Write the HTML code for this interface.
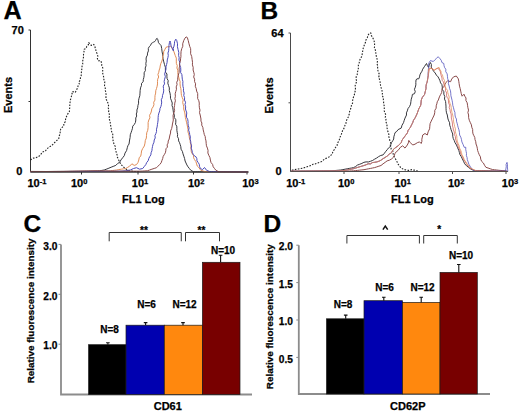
<!DOCTYPE html>
<html><head><meta charset="utf-8"><style>
html,body{margin:0;padding:0;background:#fff;}
svg{display:block;font-family:"Liberation Sans", sans-serif;}
text{stroke:#000;stroke-width:0.25px;}
</style></head><body>
<svg width="520" height="417" viewBox="0 0 520 417" font-family='"Liberation Sans", sans-serif'>
<rect width="520" height="417" fill="#fff"/>
<path d="M30.5 30 V172 H248.5" fill="none" stroke="#333" stroke-width="1"/>
<path d="M28.5 30 H30.5 M28.5 101.5 H30.5" stroke="#333" stroke-width="1"/>
<path d="M81.5 172 V174.5" stroke="#333" stroke-width="1"/>
<path d="M138 172 V174.5" stroke="#333" stroke-width="1"/>
<path d="M193.5 172 V174.5" stroke="#333" stroke-width="1"/>
<path d="M247 172 V174.5" stroke="#333" stroke-width="1"/>
<polyline points="30.5,160 31.0,159.6 33.2,158.15 35.8,157.7 37.78,156.92 39.6,155.8 41.1,153.94 42.5,152.0 45.4,151.0 46.99,148.75 49.2,147.1 52.1,145.2 53.98,143.18 56.0,141.3 58.8,138.5 59.15,136.04 60.22,133.74 60.04,131.17 60.8,128.8 62.16,127.31 63.7,126.0 63.86,123.6 65.33,121.57 65.6,119.2 66.41,116.74 67.5,114.4 69.4,111.5 69.56,109.2 69.79,106.9 69.78,104.58 70.04,102.29 70.4,100.0 70.99,97.9 71.58,95.8 72.09,93.68 72.3,91.5 75.2,92.5 76.35,90.35 77.42,88.16 78.1,85.8 79.25,84.02 78.82,81.77 80.34,80.1 80.4,78.0 81.19,75.69 81.27,73.27 81.55,70.88 81.9,68.5 82.05,66.18 82.74,63.93 82.57,61.56 83.04,59.28 83.5,57.0 83.5,54.38 83.98,51.8 84.2,49.2 86.2,48.3 86.79,46.26 88.41,44.67 88.7,42.5 91.2,45.4 93.8,44.4 94.76,46.19 95.3,48.12 95.84,50.05 96.3,52.0 97.38,54.07 97.79,56.29 97.39,58.69 98.3,60.8 100.8,60.8 101.64,63.13 101.77,65.6 102.79,67.89 102.7,70.4 102.59,72.69 103.06,74.91 103.71,77.09 103.81,79.36 104.81,81.49 104.6,83.8 104.52,86.03 105.29,88.17 105.23,90.4 105.93,92.55 106.03,94.76 105.94,96.99 106.0,99.2 107.24,100.96 107.9,103.0 108.62,105.21 108.02,107.52 108.88,109.71 108.6,112.0 109.27,113.95 109.61,115.94 108.93,118.05 109.6,120.0 110.19,122.27 110.34,124.61 111.05,126.86 111.2,129.2 111.67,131.77 112.78,134.22 112.7,136.9 112.91,139.52 113.36,142.1 114.2,144.6 115.27,146.53 115.29,148.73 115.8,150.8 116.42,152.8 117.06,154.8 117.3,156.9 118.51,159.57 119.6,162.3 121.9,165.4 123.45,166.95 125.0,168.5 126.9,169.5 128.8,170.5 131.15,171.0 133.5,171.5 135.67,171.5 137.83,171.5 140.0,171.5" fill="none" stroke="#222" stroke-width="1.1" stroke-linejoin="round" stroke-dasharray="1.6,1.4" opacity="1"/>
<polyline points="30,171.6 32.03,171.59 34.06,171.57 36.09,171.56 38.12,171.55 40.16,171.54 42.19,171.53 44.22,171.51 46.25,171.5 48.28,171.49 50.31,171.47 52.34,171.46 54.38,171.45 56.41,171.44 58.44,171.42 60.47,171.41 62.5,171.4 64.53,171.39 66.56,171.38 68.59,171.36 70.62,171.35 72.66,171.34 74.69,171.32 76.72,171.31 78.75,171.3 80.78,171.29 82.81,171.27 84.84,171.26 86.88,171.25 88.91,171.24 90.94,171.22 92.97,171.21 95.0,171.2 97.3,171.0 99.6,170.8 101.9,170.4 104.2,170.0 106.15,169.25 108.1,168.5 110.0,167.7 111.9,166.9 113.85,166.15 115.8,165.4 117.51,163.62 119.6,162.3 121.01,159.9 122.7,157.7 124.32,155.63 125.0,153.1 126.57,150.58 127.3,147.7 127.86,145.77 129.02,144.02 129.32,142.01 129.6,140.0 130.11,137.43 130.28,134.79 131.2,132.3 131.85,130.3 132.48,128.3 132.7,126.2 134.2,124.6 135.43,122.45 135.8,120.0 135.76,117.97 136.69,116.05 136.29,113.98 136.99,112.03 136.9,110.0 137.71,107.77 137.95,105.44 138.62,103.19 138.5,100.8 139.02,98.24 139.81,95.73 140.0,93.1 140.15,90.47 140.53,87.88 141.5,85.4 141.53,83.31 143.2,81.71 143.27,79.64 143.8,77.7 144.19,75.28 144.11,72.79 145.41,70.51 145.2,68.0 146.07,65.78 145.83,63.38 146.3,61.1 146.04,59.02 146.36,57.02 147.43,55.13 147.5,53.1 148.41,50.89 148.3,48.5 149.2,46.7 150.4,45.6 151.5,43.3 152.5,42.7 153.6,42.1 154.8,41.5 155.6,40.4 156.1,39.2 157.1,38.3 157.9,39.8 158.5,42.7 159.4,43.8 160.2,44.4 161.1,45.6 161.7,48.5 162.1,51.9 162.6,54.18 162.8,56.5 163.07,58.82 163.6,61.1 164.5,64.6 165.39,67.23 165.4,70.0 165.54,72.15 166.95,74.0 166.9,76.2 167.06,78.54 168.23,80.71 167.8,83.15 168.5,85.4 169.35,87.9 169.28,90.58 170.0,93.1 170.45,95.68 170.5,98.33 171.5,100.8 172.26,103.04 171.99,105.45 172.75,107.69 173.1,110.0 173.45,112.56 174.3,115.0 174.29,117.51 175.83,119.69 175.8,122.2 175.57,124.29 176.76,126.18 176.89,128.23 176.87,130.29 177.2,132.3 177.6,134.44 177.44,136.68 178.54,138.7 178.6,140.9 179.57,142.74 180.21,144.71 180.8,146.7 181.06,149.21 182.39,151.39 183.0,153.8 183.82,156.16 184.58,158.55 185.1,161.0 185.99,162.97 186.89,164.94 188.0,166.8 189.45,168.6 190.9,170.4 193.7,171.8 195.71,171.81 197.72,171.81 199.73,171.82 201.74,171.83 203.76,171.84 205.77,171.84 207.78,171.85 209.79,171.86 211.8,171.87 213.81,171.87 215.82,171.88 217.83,171.89 219.84,171.9 221.86,171.9 223.87,171.91 225.88,171.92 227.89,171.93 229.9,171.93 231.91,171.94 233.92,171.95 235.93,171.96 237.94,171.96 239.96,171.97 241.97,171.98 243.98,171.99 245.99,171.99 248.0,172.0" fill="none" stroke="#36363c" stroke-width="1.0" stroke-linejoin="round" opacity="1"/>
<polyline points="30,171.6 32.0,171.59 34.0,171.58 36.0,171.57 38.0,171.55 40.0,171.54 42.0,171.53 44.0,171.52 46.0,171.51 48.0,171.5 50.0,171.49 52.0,171.47 54.0,171.46 56.0,171.45 58.0,171.44 60.0,171.43 62.0,171.42 64.0,171.41 66.0,171.39 68.0,171.38 70.0,171.37 72.0,171.36 74.0,171.35 76.0,171.34 78.0,171.33 80.0,171.31 82.0,171.3 84.0,171.29 86.0,171.28 88.0,171.27 90.0,171.26 92.0,171.25 94.0,171.23 96.0,171.22 98.0,171.21 100.0,171.2 102.08,171.12 104.16,171.04 106.24,170.96 108.32,170.88 110.4,170.8 112.43,170.53 114.47,170.27 116.5,170.0 118.85,169.6 121.2,169.2 123.5,168.85 125.8,168.5 127.7,167.35 129.6,166.2 131.9,163.8 134.2,165.4 136.5,164.6 137.99,162.47 138.8,160.0 139.2,157.78 140.72,155.99 141.2,153.8 141.55,151.04 142.7,148.5 144.32,146.0 145.0,143.1 145.31,140.5 146.35,138.03 146.5,135.4 146.74,132.77 147.72,130.3 148.1,127.7 148.13,125.11 148.12,122.53 148.8,120.0 149.95,117.84 149.57,115.24 150.8,113.1 151.45,110.99 151.8,108.77 153.1,106.9 153.96,104.68 153.69,102.24 154.95,100.1 154.9,97.7 155.07,95.36 155.66,93.09 155.74,90.74 156.5,88.5 157.15,86.22 157.53,83.91 157.49,81.54 157.7,79.2 158.66,77.0 157.92,74.51 158.77,72.29 159.2,70.0 159.93,68.06 160.2,66.0 160.85,63.48 161.9,61.1 162.55,58.82 162.68,56.41 163.6,54.2 163.64,51.75 164.8,49.6 166.0,47.3 167.7,46.7 169.4,46.7 170.6,46.1 171.7,47.3 172.9,49.6 174.0,51.9 175.2,55.4 176.33,58.14 176.3,61.1 176.37,63.41 177.27,65.65 176.9,68.0 177.84,70.14 177.81,72.48 177.97,74.78 178.67,76.97 179.2,79.2 180.1,81.44 180.02,83.85 180.26,86.2 180.8,88.5 181.1,90.81 181.19,93.16 181.47,95.47 182.3,97.7 183.23,99.91 182.69,102.36 183.24,104.63 183.8,106.9 183.68,109.0 184.27,110.98 184.82,112.97 185.1,115.0 185.37,117.44 185.95,119.82 186.5,122.2 187.03,124.59 187.56,126.99 188.0,129.4 187.9,131.62 188.53,133.73 189.15,135.83 189.4,138.0 190.16,140.11 190.21,142.34 190.99,144.44 190.9,146.7 191.07,149.12 191.29,151.54 192.3,153.8 193.52,155.55 193.6,157.73 194.5,159.6 195.89,161.58 196.6,163.9 197.22,165.99 198.8,167.5 200.9,170.4 202.95,171.0 205.0,171.6 207.05,171.62 209.1,171.64 211.14,171.66 213.19,171.68 215.24,171.7 217.29,171.71 219.33,171.73 221.38,171.75 223.43,171.77 225.48,171.79 227.52,171.81 229.57,171.83 231.62,171.85 233.67,171.87 235.71,171.89 237.76,171.9 239.81,171.92 241.86,171.94 243.9,171.96 245.95,171.98 248.0,172.0" fill="none" stroke="#e08c56" stroke-width="1.0" stroke-linejoin="round" opacity="1"/>
<polyline points="30,171.6 32.0,171.59 34.0,171.58 36.0,171.57 38.0,171.56 40.0,171.56 42.0,171.55 44.0,171.54 46.0,171.53 48.0,171.52 50.0,171.51 52.0,171.5 54.0,171.49 56.0,171.48 58.0,171.48 60.0,171.47 62.0,171.46 64.0,171.45 66.0,171.44 68.0,171.43 70.0,171.42 72.0,171.41 74.0,171.4 76.0,171.4 78.0,171.39 80.0,171.38 82.0,171.37 84.0,171.36 86.0,171.35 88.0,171.34 90.0,171.33 92.0,171.32 94.0,171.32 96.0,171.31 98.0,171.3 100.0,171.29 102.0,171.28 104.0,171.27 106.0,171.26 108.0,171.25 110.0,171.24 112.0,171.24 114.0,171.23 116.0,171.22 118.0,171.21 120.0,171.2 122.9,171.0 125.8,170.8 128.1,170.4 130.4,170.0 133.5,168.5 136.5,167.7 139.6,169.2 142.7,168.5 144.25,166.55 145.8,164.6 146.69,162.51 148.18,160.72 148.8,158.5 149.71,156.63 150.87,154.86 151.09,152.71 151.9,150.8 152.12,148.59 152.54,146.42 153.05,144.27 153.98,142.21 154.2,140.0 155.23,137.96 154.95,135.64 155.9,133.59 156.56,131.47 156.5,129.2 157.11,126.94 157.43,124.62 157.8,122.32 158.1,120.0 158.11,117.64 158.33,115.31 158.92,113.05 159.74,110.82 160.0,108.5 160.93,106.44 161.44,104.29 161.69,102.09 161.29,99.74 162.3,97.7 162.52,95.39 163.3,93.15 163.71,90.87 163.5,88.5 163.23,86.11 164.53,83.91 164.15,81.5 164.6,79.2 165.35,76.68 164.65,74.02 165.4,71.5 166.0,69.2 165.94,66.83 166.57,64.57 167.1,62.3 167.25,59.96 167.88,57.7 168.3,55.4 167.93,53.06 168.65,50.8 168.8,48.5 168.96,45.59 169.4,42.7 170.0,41.0 170.6,42.7 171.1,46.1 172.3,48.5 173.4,50.8 173.2,48.39 174.0,46.1 174.42,43.82 174.6,41.5 175.8,39.2 176.7,40.4 177.5,43.8 177.44,46.74 178.1,49.6 178.79,52.46 178.6,55.4 179.16,57.67 178.95,60.08 179.8,62.3 179.59,64.94 180.65,67.41 180.8,70.0 180.59,72.4 181.87,74.55 182.08,76.87 182.3,79.2 182.92,81.48 182.81,83.86 182.95,86.21 183.5,88.5 183.44,90.84 184.13,93.09 183.77,95.47 184.6,97.7 184.47,100.05 185.56,102.25 185.0,104.65 185.7,106.9 185.45,108.97 186.09,110.95 186.79,112.93 186.5,115.0 186.46,117.22 187.63,119.23 188.05,121.38 188.0,123.6 188.34,125.78 189.05,127.89 188.6,130.2 189.4,132.3 189.72,134.6 190.35,136.85 190.08,139.23 190.7,141.49 190.9,143.8 191.59,145.89 191.19,148.17 191.97,150.25 192.3,152.4 193.2,154.32 194.5,156.0 195.9,156.7 196.84,158.56 196.96,160.72 198.1,162.5 199.26,164.23 199.5,166.3 200.2,168.2 202.4,169.7 204.5,167.5 206.7,170.4 209.6,171.5 211.62,171.53 213.64,171.55 215.66,171.58 217.68,171.61 219.71,171.63 221.73,171.66 223.75,171.68 225.77,171.71 227.79,171.74 229.81,171.76 231.83,171.79 233.85,171.82 235.87,171.84 237.89,171.87 239.92,171.89 241.94,171.92 243.96,171.95 245.98,171.97 248.0,172.0" fill="none" stroke="#4a4ab8" stroke-width="1.0" stroke-linejoin="round" opacity="1"/>
<polyline points="30,171.4 32.0,171.41 34.0,171.43 36.0,171.44 38.0,171.45 40.0,171.47 42.0,171.48 44.0,171.49 46.0,171.51 48.0,171.52 50.0,171.53 52.0,171.55 54.0,171.56 56.0,171.57 58.0,171.59 60.0,171.6 62.06,171.55 64.12,171.51 66.18,171.46 68.24,171.41 70.29,171.36 72.35,171.32 74.41,171.27 76.47,171.22 78.53,171.18 80.59,171.13 82.65,171.08 84.71,171.04 86.76,170.99 88.82,170.94 90.88,170.89 92.94,170.85 95.0,170.8 97.14,170.86 99.29,170.91 101.43,170.97 103.57,171.03 105.71,171.09 107.86,171.14 110.0,171.2 112.0,171.2 114.0,171.2 116.0,171.2 118.0,171.2 120.0,171.2 122.0,171.2 124.0,171.2 126.0,171.2 128.0,171.2 130.0,171.2 132.0,171.2 134.0,171.2 136.0,171.2 138.0,171.2 140.0,171.2 142.43,171.07 144.87,170.93 147.3,170.8 149.6,170.0 151.9,169.2 154.2,168.45 156.5,167.7 158.05,166.15 159.6,164.6 161.14,162.83 161.89,160.65 162.7,158.5 163.17,156.45 164.27,154.66 165.34,152.85 165.8,150.8 165.96,148.75 167.45,147.1 167.1,144.9 168.1,143.1 168.2,140.98 169.16,139.06 169.5,137.0 169.94,135.01 170.57,133.06 170.6,131.0 171.63,128.57 172.2,126.0 172.45,123.98 172.92,122.0 173.3,120.0 173.15,117.68 173.08,115.36 173.8,113.1 174.6,110.59 174.09,107.94 174.6,105.4 174.77,103.1 175.4,100.83 174.9,98.47 175.4,96.2 175.15,93.84 175.77,91.55 176.46,89.26 176.2,86.9 177.06,84.68 176.71,82.26 177.82,80.08 177.7,77.7 178.31,75.16 179.09,72.64 179.2,70.0 179.15,67.95 179.8,66.0 179.52,63.48 180.4,61.1 180.57,58.8 180.95,56.52 180.9,54.2 181.08,51.31 181.8,48.5 182.82,46.26 182.7,43.8 183.8,40.4 185.0,38.1 186.1,36.9 187.3,37.5 188.2,40.4 189.0,43.8 189.8,46.7 190.64,48.66 190.7,50.8 190.64,53.75 191.7,56.5 192.12,59.4 192.5,62.3 192.43,64.89 193.19,67.41 193.1,70.0 193.77,72.25 194.31,74.52 193.66,76.99 194.6,79.2 194.58,81.6 195.58,83.82 195.27,86.27 196.2,88.5 196.61,91.08 197.7,93.54 197.7,96.2 197.67,98.57 198.81,100.74 199.27,103.03 199.2,105.4 199.41,107.8 200.0,110.17 199.51,112.65 200.2,115.0 200.59,117.01 200.98,119.01 200.95,121.08 201.88,123.01 201.7,125.1 202.85,127.37 203.2,129.87 203.8,132.3 204.27,134.47 205.21,136.52 205.43,138.76 206.0,140.9 206.16,143.36 206.46,145.79 207.4,148.1 208.06,150.46 207.87,152.99 208.8,155.3 209.94,157.58 210.38,160.07 211.0,162.5 212.58,164.4 213.2,166.8 214.6,168.6 216.0,170.4 218.9,171.8 220.98,171.81 223.06,171.83 225.14,171.84 227.21,171.86 229.29,171.87 231.37,171.89 233.45,171.9 235.53,171.91 237.61,171.93 239.69,171.94 241.76,171.96 243.84,171.97 245.92,171.99 248.0,172.0" fill="none" stroke="#8a4a4a" stroke-width="1.0" stroke-linejoin="round" opacity="1"/>
<path d="M30.5 172 H248.5" fill="none" stroke="#333" stroke-width="1" opacity="0.85"/>
<path d="M290.5 33 V171.5 H507.7" fill="none" stroke="#4a4a4a" stroke-width="1"/>
<path d="M288.5 33 H290.5 M288.5 102.8 H290.5" stroke="#4a4a4a" stroke-width="1"/>
<path d="M344 171.5 V174.0" stroke="#4a4a4a" stroke-width="1"/>
<path d="M399 171.5 V174.0" stroke="#4a4a4a" stroke-width="1"/>
<path d="M452.5 171.5 V174.0" stroke="#4a4a4a" stroke-width="1"/>
<path d="M506 171.5 V174.0" stroke="#4a4a4a" stroke-width="1"/>
<polyline points="291.9,170.2 294.2,169.7 296.32,169.32 298.45,168.95 300.57,168.57 302.7,168.2 304.82,167.52 306.95,166.85 309.07,166.18 311.2,165.5 313.1,164.18 315.38,163.86 317.46,163.0 319.6,162.3 321.67,161.6 323.29,160.14 324.98,158.79 327.0,158.0 329.0,156.9 330.76,155.49 332.3,153.8 332.84,151.43 334.32,149.54 335.5,147.5 337.04,145.64 337.47,143.22 338.7,141.2 339.57,139.11 340.11,136.9 341.21,134.89 341.8,132.7 342.52,130.82 343.65,129.11 344.33,127.2 345.0,125.3 345.98,123.28 346.2,120.98 347.3,119.0 348.41,116.78 349.17,114.46 349.5,112.0 350.33,109.71 351.12,107.41 351.5,105.0 352.54,103.14 352.54,101.01 352.94,98.99 353.5,97.0 354.37,94.76 354.81,92.42 355.46,90.14 355.4,87.7 355.18,85.44 355.99,83.31 356.76,81.17 355.9,78.83 356.25,76.64 357.24,74.53 357.3,72.3 358.26,70.0 358.35,67.52 358.38,65.03 359.2,62.7 359.59,60.62 360.38,58.69 361.5,56.9 362.1,54.52 362.58,52.12 362.8,49.66 363.5,47.3 364.38,44.87 365.4,42.5 365.96,39.94 367.3,37.7 367.88,35.43 369.2,33.5 370.8,32.9 371.37,35.45 372.7,37.7 373.9,40.13 374.53,42.69 374.6,45.4 374.4,47.8 375.33,50.0 375.76,52.3 375.93,54.63 376.5,56.9 377.09,59.06 377.51,61.24 376.94,63.55 377.67,65.7 377.62,67.94 377.84,70.15 378.5,72.3 379.46,74.5 378.77,76.98 379.43,79.23 380.01,81.5 380.4,83.8 380.59,86.46 381.59,88.94 382.2,91.5 382.4,93.53 382.17,95.62 383.38,97.51 383.35,99.58 383.6,101.6 383.64,103.93 384.35,106.18 384.28,108.52 384.22,110.86 385.0,113.1 385.88,115.03 385.28,117.19 386.0,119.15 385.7,121.25 386.5,123.2 387.0,125.33 386.8,127.56 387.58,129.65 387.9,131.8 388.81,134.12 388.86,136.61 389.4,139.0 389.96,140.97 390.76,142.89 390.2,145.08 391.0,147.0 391.15,149.17 392.87,150.82 393.0,153.0 393.55,155.68 395.0,158.0 396.1,160.03 397.14,162.1 398.1,164.2 399.65,166.15 401.2,168.1 404.2,169.6 406.5,170.0 408.8,170.4 411.9,169.6 414.1,170.13 416.3,170.67 418.5,171.2" fill="none" stroke="#222" stroke-width="1.1" stroke-linejoin="round" stroke-dasharray="1.6,1.4" opacity="1"/>
<polyline points="291,171.3 293.05,171.28 295.11,171.27 297.16,171.25 299.21,171.24 301.26,171.22 303.32,171.21 305.37,171.19 307.42,171.17 309.47,171.16 311.53,171.14 313.58,171.13 315.63,171.11 317.68,171.09 319.74,171.08 321.79,171.06 323.84,171.05 325.89,171.03 327.95,171.02 330.0,171.0 332.16,170.8 334.32,170.6 336.48,170.4 338.64,170.2 340.8,170.0 342.92,169.6 345.03,169.2 347.15,168.8 349.27,168.4 351.38,168.0 353.5,167.6 355.6,166.55 357.48,165.06 359.7,164.25 361.9,163.4 363.89,162.33 366.04,161.9 368.31,161.98 370.4,161.3 372.63,160.45 374.64,159.17 376.7,158.0 378.65,156.59 380.74,155.47 383.1,154.9 384.49,153.13 385.83,151.31 387.3,149.6 388.68,147.78 390.5,146.4 390.88,144.37 391.6,142.48 392.74,140.78 393.7,139.0 393.83,136.84 394.44,134.77 395.0,132.7 396.79,131.39 398.1,129.6 401.2,128.1 402.01,125.25 403.5,122.7 404.21,120.39 405.0,118.1 406.5,115.0 406.43,112.86 407.3,110.9 408.03,108.56 409.5,106.6 410.57,104.2 410.9,101.6 411.24,99.17 412.0,96.82 412.4,94.4 414.5,93.7 415.26,91.59 414.45,89.29 415.3,87.2 415.87,84.83 415.82,82.4 416.0,80.0 416.9,78.8 418.8,78.8 419.52,76.89 419.93,74.86 420.8,73.0 421.97,71.21 422.7,69.2 424.6,66.3 426.5,63.5 427.34,65.48 428.5,67.3 429.26,64.83 430.4,62.5 431.42,64.62 431.2,67.1 432.3,69.2 433.6,71.21 435.2,73.0 436.39,75.14 438.1,76.9 439.08,78.84 440.0,80.8 440.55,82.9 441.9,84.6 442.29,87.02 442.27,89.51 443.9,91.69 443.8,94.2 444.77,96.5 444.51,99.06 445.56,101.35 445.8,103.8 445.97,106.06 446.0,108.33 446.15,110.59 446.51,112.83 447.3,115.0 447.62,117.0 448.0,118.98 448.7,120.87 449.6,122.7 449.71,125.12 450.47,127.37 451.06,129.67 451.9,131.9 452.69,133.97 452.76,136.23 453.23,138.38 454.2,140.4 455.08,142.84 456.5,145.0 457.58,147.73 458.8,150.4 459.4,152.51 459.94,154.65 461.2,156.5 462.31,158.87 463.5,161.2 464.63,163.74 466.5,165.8 468.45,167.3 470.4,168.8 473.5,170.4 475.59,170.47 477.69,170.54 479.78,170.61 481.88,170.68 483.97,170.74 486.06,170.81 488.16,170.88 490.25,170.95 492.34,171.02 494.44,171.09 496.53,171.16 498.62,171.22 500.72,171.29 502.81,171.36 504.91,171.43 507.0,171.5" fill="none" stroke="#36363c" stroke-width="1.0" stroke-linejoin="round" opacity="1"/>
<polyline points="291,171.3 293.0,171.3 295.0,171.29 297.0,171.29 299.0,171.29 301.0,171.28 303.0,171.28 305.0,171.27 307.0,171.27 309.0,171.27 311.0,171.26 313.0,171.26 315.0,171.26 317.0,171.25 319.0,171.25 321.0,171.24 323.0,171.24 325.0,171.24 327.0,171.23 329.0,171.23 331.0,171.23 333.0,171.22 335.0,171.22 337.0,171.21 339.0,171.21 341.0,171.21 343.0,171.2 345.0,171.2 347.12,171.1 349.25,171.0 351.38,170.9 353.5,170.8 355.6,170.58 357.7,170.36 359.8,170.14 361.9,169.92 364.0,169.7 366.12,169.28 368.24,168.86 370.36,168.44 372.48,168.02 374.6,167.6 376.73,166.9 378.87,166.2 381.0,165.5 383.05,163.83 385.2,162.3 387.11,160.86 389.4,160.2 391.73,158.84 393.7,157.0 395.0,153.5 396.31,151.71 398.1,150.4 400.4,147.3 402.7,145.8 405.0,148.1 407.3,145.0 408.38,142.81 408.8,140.4 410.4,142.7 412.7,145.0 415.0,144.2 417.3,142.7 419.6,141.9 421.2,143.5 421.89,141.43 421.82,139.23 422.33,137.13 422.7,135.0 425.0,133.5 427.3,135.0 428.1,131.9 429.6,128.8 429.82,126.2 430.1,123.61 431.2,121.2 432.7,118.1 434.2,115.0 434.74,112.71 434.81,110.31 436.16,108.2 436.2,105.8 436.84,103.83 437.26,101.78 438.39,99.98 439.0,98.0 439.78,96.12 440.76,94.32 441.67,92.49 441.9,90.4 442.45,88.26 443.8,86.52 444.8,84.6 445.95,82.47 447.7,80.8 450.6,81.7 451.69,79.08 453.5,76.9 456.3,76.0 458.3,78.8 458.78,81.22 459.14,83.67 459.51,86.12 460.2,88.5 460.72,91.09 461.27,93.68 462.1,96.2 464.0,94.2 464.82,96.19 466.0,98.0 465.92,100.53 467.19,102.8 467.54,105.25 467.9,107.7 468.53,110.1 467.9,112.61 468.6,115.0 468.63,117.7 469.29,120.25 470.4,122.7 471.42,124.89 471.78,127.24 472.66,129.47 472.7,131.9 473.01,133.9 473.9,135.73 474.81,137.56 475.0,139.6 475.76,141.72 476.01,143.97 476.8,146.07 477.31,148.25 477.63,150.49 478.4,152.6 479.25,154.76 480.41,156.8 480.71,159.16 481.6,161.3 483.42,163.02 484.54,165.25 485.9,167.3 488.07,168.03 490.23,168.77 492.4,169.5 494.57,169.77 496.73,170.03 498.9,170.3 500.92,170.48 502.95,170.65 504.98,170.82 507.0,171.0" fill="none" stroke="#8a4a4a" stroke-width="1.0" stroke-linejoin="round" opacity="1"/>
<polyline points="291,171.3 293.08,171.28 295.15,171.26 297.23,171.24 299.3,171.22 301.38,171.2 303.46,171.18 305.53,171.16 307.61,171.14 309.68,171.12 311.76,171.1 313.84,171.08 315.91,171.06 317.99,171.04 320.06,171.02 322.14,171.0 324.22,170.98 326.29,170.96 328.37,170.94 330.44,170.92 332.52,170.9 334.6,170.88 336.67,170.86 338.75,170.84 340.82,170.82 342.9,170.8 345.02,170.38 347.14,169.96 349.26,169.54 351.38,169.12 353.5,168.7 355.6,168.06 357.7,167.42 359.8,166.78 361.9,166.14 364.0,165.5 366.09,164.77 368.12,163.81 370.45,163.87 372.38,162.61 374.6,162.3 376.84,161.93 378.97,161.21 381.0,160.2 383.03,158.69 385.2,157.4 387.3,156.0 389.2,154.14 391.5,152.8 392.78,150.06 395.0,148.0 398.1,145.8 399.68,144.28 401.2,142.7 401.99,140.22 403.5,138.1 405.8,135.0 407.38,132.91 408.1,130.4 410.4,127.3 411.5,124.97 412.7,122.7 413.53,120.24 415.0,118.1 416.5,115.0 417.35,112.97 418.09,110.89 418.8,108.8 419.84,106.98 420.77,105.12 421.0,103.0 421.25,100.04 422.4,97.3 424.6,94.4 425.27,91.49 426.0,88.6 426.0,86.38 426.34,84.23 427.12,82.15 427.5,80.0 427.94,78.02 428.39,76.04 428.5,74.0 429.06,71.17 429.4,68.3 431.3,68.3 434.2,70.2 437.1,68.3 439.0,69.0 440.5,72.0 440.81,74.05 441.31,76.05 442.0,78.0 442.06,80.16 443.43,81.93 443.8,84.0 444.63,86.22 445.63,88.38 445.53,90.89 446.7,93.0 446.5,95.11 446.95,97.1 448.29,98.91 448.45,100.96 448.6,103.0 449.59,105.14 449.23,107.55 450.0,109.74 450.4,112.0 451.15,113.93 451.3,115.97 451.32,118.02 451.8,120.0 452.22,121.98 452.49,123.99 452.55,126.03 453.13,127.99 453.4,130.0 454.35,132.15 454.36,134.52 455.44,136.64 455.5,139.0 456.26,140.97 456.91,142.98 457.84,144.89 458.2,147.0 459.4,149.21 460.36,151.51 460.8,154.0 462.43,156.33 463.4,159.0 465.02,161.46 466.5,164.0 468.15,166.05 469.8,168.1 472.4,169.3 475.0,170.5 477.0,170.56 479.0,170.62 481.0,170.69 483.0,170.75 485.0,170.81 487.0,170.88 489.0,170.94 491.0,171.0 493.0,171.06 495.0,171.12 497.0,171.19 499.0,171.25 501.0,171.31 503.0,171.38 505.0,171.44 507.0,171.5" fill="none" stroke="#cc5a5a" stroke-width="1.0" stroke-linejoin="round" opacity="0.75"/>
<polyline points="291,171.3 293.08,171.28 295.15,171.26 297.23,171.24 299.3,171.22 301.38,171.2 303.46,171.18 305.53,171.16 307.61,171.14 309.68,171.12 311.76,171.1 313.84,171.08 315.91,171.06 317.99,171.04 320.06,171.02 322.14,171.0 324.22,170.98 326.29,170.96 328.37,170.94 330.44,170.92 332.52,170.9 334.6,170.88 336.67,170.86 338.75,170.84 340.82,170.82 342.9,170.8 345.02,170.38 347.14,169.96 349.26,169.54 351.38,169.12 353.5,168.7 355.6,168.06 357.7,167.42 359.8,166.78 361.9,166.14 364.0,165.5 366.09,164.77 368.12,163.81 370.45,163.87 372.38,162.61 374.6,162.3 376.84,161.93 378.97,161.21 381.0,160.2 383.03,158.69 385.2,157.4 387.3,156.0 389.2,154.14 391.5,152.8 392.78,150.06 395.0,148.0 398.1,145.8 399.68,144.28 401.2,142.7 401.99,140.22 403.5,138.1 405.8,135.0 407.38,132.91 408.1,130.4 410.4,127.3 411.5,124.97 412.7,122.7 413.53,120.24 415.0,118.1 416.5,115.0 417.35,112.97 418.09,110.89 418.8,108.8 419.84,106.98 420.77,105.12 421.0,103.0 421.25,100.04 422.4,97.3 424.6,94.4 425.27,91.49 426.0,88.6 426.0,86.38 426.34,84.23 427.12,82.15 427.5,80.0 427.75,77.78 428.01,75.56 428.04,73.32 428.27,71.1 428.41,68.87 428.92,66.66 428.5,64.4 429.23,62.39 430.4,60.6 433.3,61.5 434.67,60.02 436.2,58.7 438.1,56.7 440.0,58.7 441.31,60.42 441.9,62.5 443.8,63.5 444.02,65.56 444.58,67.5 445.8,69.2 445.77,71.7 447.2,73.91 447.46,76.35 447.7,78.8 448.72,81.12 448.38,83.7 449.18,86.06 449.6,88.5 450.47,90.8 450.75,93.21 450.9,95.65 451.5,98.0 452.1,100.4 452.55,102.84 452.79,105.32 453.5,107.7 454.05,110.12 454.93,112.48 455.0,115.0 455.41,117.09 456.46,119.02 456.5,121.2 457.12,123.21 457.62,125.25 458.1,127.3 458.93,129.8 459.45,132.36 459.6,135.0 460.8,137.16 461.48,139.48 461.9,141.9 463.12,144.57 464.2,147.3 465.8,147.3 465.71,149.4 466.14,151.45 466.5,153.5 466.4,155.58 467.1,157.56 467.3,159.6 468.14,161.87 468.8,164.2 470.0,166.15 471.2,168.1 473.5,170.4 475.67,170.6 477.83,170.8 480.0,171.0 482.12,171.0 484.25,171.0 486.38,171.0 488.5,171.0 490.62,171.0 492.75,171.0 494.88,171.0 497.0,171.0 499.12,171.0 501.25,171.0 503.38,171.0 505.5,171.0 505.88,168.85 506.25,166.7 506.1,164.46 507.0,162.4 507.5,164.65 507.4,166.95 507.6,169.22 507.8,171.5" fill="none" stroke="#4a4ab8" stroke-width="1.0" stroke-linejoin="round" opacity="0.75"/>
<polyline points="291,171.3 293.08,171.28 295.15,171.26 297.23,171.24 299.3,171.22 301.38,171.2 303.46,171.18 305.53,171.16 307.61,171.14 309.68,171.12 311.76,171.1 313.84,171.08 315.91,171.06 317.99,171.04 320.06,171.02 322.14,171.0 324.22,170.98 326.29,170.96 328.37,170.94 330.44,170.92 332.52,170.9 334.6,170.88 336.67,170.86 338.75,170.84 340.82,170.82 342.9,170.8 345.02,170.38 347.14,169.96 349.26,169.54 351.38,169.12 353.5,168.7 355.6,168.06 357.7,167.42 359.8,166.78 361.9,166.14 364.0,165.5 366.09,164.77 368.12,163.81 370.45,163.87 372.38,162.61 374.6,162.3 376.84,161.93 378.97,161.21 381.0,160.2 383.03,158.69 385.2,157.4 387.3,156.0 389.2,154.14 391.5,152.8 392.78,150.06 395.0,148.0 398.1,145.8 399.68,144.28 401.2,142.7 401.99,140.22 403.5,138.1 405.8,135.0 407.38,132.91 408.1,130.4 410.4,127.3 411.5,124.97 412.7,122.7 413.53,120.24 415.0,118.1 416.5,115.0 417.35,112.97 418.09,110.89 418.8,108.8 419.84,106.98 420.77,105.12 421.0,103.0 421.25,100.04 422.4,97.3 424.6,94.4 425.27,91.49 426.0,88.6 426.0,86.38 426.34,84.23 427.12,82.15 427.5,80.0 427.81,77.85 428.12,75.7 428.21,73.53 428.5,71.38 428.5,69.2 431.3,68.3 434.2,70.2 437.1,68.3 439.0,67.3 439.82,69.34 441.0,71.2 441.09,73.31 442.5,74.99 442.9,77.0 443.64,78.86 444.54,80.67 444.8,82.7 444.93,84.76 445.4,86.71 446.04,88.61 447.56,90.25 447.7,92.3 448.41,94.65 449.19,96.99 448.85,99.55 449.6,101.9 450.13,103.91 450.94,105.86 451.22,107.93 451.5,110.0 451.97,112.53 452.7,115.0 453.18,117.28 453.5,119.59 453.61,121.93 454.2,124.2 454.65,126.52 455.43,128.78 455.31,131.19 455.8,133.5 456.76,135.98 456.89,138.62 457.3,141.2 458.12,143.48 459.15,145.69 459.6,148.1 460.71,150.29 461.56,152.56 461.9,155.0 463.38,157.14 464.2,159.6 465.82,161.86 467.3,164.2 468.85,166.15 470.4,168.1 472.27,169.0 474.13,169.9 476.0,170.8 478.07,170.85 480.13,170.89 482.2,170.94 484.27,170.99 486.33,171.03 488.4,171.08 490.47,171.13 492.53,171.17 494.6,171.22 496.67,171.27 498.73,171.31 500.8,171.36 502.87,171.41 504.93,171.45 507.0,171.5" fill="none" stroke="#e08c56" stroke-width="1.0" stroke-linejoin="round" opacity="0.75"/>
<path d="M290.5 171.5 H507.7" fill="none" stroke="#4a4a4a" stroke-width="1" opacity="0.85"/>
<text x="3.4" y="18.9" font-size="25.2" text-anchor="start" font-weight="bold" >A</text>
<text x="260.4" y="19.0" font-size="24.5" text-anchor="start" font-weight="bold" >B</text>
<text x="23.6" y="232.1" font-size="24.5" text-anchor="start" font-weight="bold" >C</text>
<text x="263.6" y="232.1" font-size="24.5" text-anchor="start" font-weight="bold" >D</text>
<text x="23.8" y="33.7" font-size="11" text-anchor="end" font-weight="bold" >70</text>
<text x="283.6" y="36.9" font-size="11" text-anchor="end" font-weight="bold" >64</text>
<text x="22.4" y="174.5" font-size="11" text-anchor="end" font-weight="bold" >0</text>
<text x="281.7" y="174.8" font-size="11" text-anchor="end" font-weight="bold" >0</text>
<text transform="translate(11.8,113) rotate(-90)" font-size="11" font-weight="bold">Events</text>
<text transform="translate(272.6,113.5) rotate(-90)" font-size="11" font-weight="bold">Events</text>
<text x="27.5" y="187.3" font-size="11" font-weight="bold">10<tspan dy="-3.6" font-size="7.5">-1</tspan></text>
<text x="71" y="187.3" font-size="11" font-weight="bold">10<tspan dy="-3.6" font-size="7.5">0</tspan></text>
<text x="131.8" y="187.3" font-size="11" font-weight="bold">10<tspan dy="-3.6" font-size="7.5">1</tspan></text>
<text x="188" y="187.3" font-size="11" font-weight="bold">10<tspan dy="-3.6" font-size="7.5">2</tspan></text>
<text x="242.2" y="187.3" font-size="11" font-weight="bold">10<tspan dy="-3.6" font-size="7.5">3</tspan></text>
<text x="286.2" y="187.3" font-size="11" font-weight="bold">10<tspan dy="-3.6" font-size="7.5">-1</tspan></text>
<text x="338" y="187.3" font-size="11" font-weight="bold">10<tspan dy="-3.6" font-size="7.5">0</tspan></text>
<text x="394.5" y="187.3" font-size="11" font-weight="bold">10<tspan dy="-3.6" font-size="7.5">1</tspan></text>
<text x="448" y="187.3" font-size="11" font-weight="bold">10<tspan dy="-3.6" font-size="7.5">2</tspan></text>
<text x="501.8" y="187.3" font-size="11" font-weight="bold">10<tspan dy="-3.6" font-size="7.5">3</tspan></text>
<text x="122" y="203" font-size="11" text-anchor="start" font-weight="bold" >FL1 Log</text>
<text x="391" y="202.7" font-size="11" text-anchor="start" font-weight="bold" >FL1 Log</text>
<path d="M61 244.4 V394.5 H252" fill="none" stroke="#8c8c8c" stroke-width="1.8"/>
<rect x="88.6" y="344.7" width="37.400000000000006" height="49.80000000000001" fill="#000000" stroke="#1a1a1a" stroke-width="0.7"/>
<rect x="126" y="325.2" width="38.30000000000001" height="69.30000000000001" fill="#0000b0" stroke="#1a1a1a" stroke-width="0.7"/>
<rect x="164.3" y="325.2" width="38.099999999999994" height="69.30000000000001" fill="#ff880e" stroke="#1a1a1a" stroke-width="0.7"/>
<rect x="202.4" y="262.3" width="37.599999999999994" height="132.2" fill="#780000" stroke="#1a1a1a" stroke-width="0.7"/>
<path d="M107.9 342.7 V344.7 M106.10000000000001 342.7 H109.7" stroke="#111" stroke-width="1.1"/>
<path d="M145.6 322.6 V325.2 M143.79999999999998 322.6 H147.4" stroke="#111" stroke-width="1.1"/>
<path d="M183 322.6 V325.2 M181.2 322.6 H184.8" stroke="#111" stroke-width="1.1"/>
<path d="M220.6 255.2 V262.3 M218.79999999999998 255.2 H222.4" stroke="#111" stroke-width="1.1"/>
<path d="M58.5 244.4 H61" stroke="#888" stroke-width="1"/>
<text x="57.4" y="249.6" font-size="10.2" text-anchor="end" font-weight="bold" >3.0</text>
<path d="M58.5 294.3 H61" stroke="#888" stroke-width="1"/>
<text x="57.4" y="299.5" font-size="10.2" text-anchor="end" font-weight="bold" >2.0</text>
<path d="M58.5 344.2 H61" stroke="#888" stroke-width="1"/>
<text x="57.4" y="349.4" font-size="10.2" text-anchor="end" font-weight="bold" >1.0</text>
<text x="109.5" y="333.2" font-size="10" text-anchor="middle" font-weight="bold" >N=8</text>
<text x="146.5" y="307.9" font-size="10" text-anchor="middle" font-weight="bold" >N=6</text>
<text x="184.5" y="307.9" font-size="10" text-anchor="middle" font-weight="bold" >N=12</text>
<text x="223" y="254" font-size="10" text-anchor="middle" font-weight="bold" >N=10</text>
<path d="M109.2 241.3 V232.5 H181.25 V241.3" fill="none" stroke="#333" stroke-width="1"/>
<path d="M185.5 241.3 V232.5 H219.5 V241.3" fill="none" stroke="#333" stroke-width="1"/>
<text x="144" y="233.5" font-size="10" text-anchor="middle" font-weight="bold" >**</text>
<text x="201.5" y="233.5" font-size="10" text-anchor="middle" font-weight="bold" >**</text>
<text x="167.8" y="410.3" font-size="11" text-anchor="middle" font-weight="bold" >CD61</text>
<text transform="translate(34.2,383.3) rotate(-90)" font-size="9.9" font-weight="bold">Relative fluorescence intensity</text>
<path d="M298.8 245.2 V394 H490" fill="none" stroke="#8c8c8c" stroke-width="1.8"/>
<rect x="326.5" y="318.8" width="37.5" height="75.19999999999999" fill="#000000" stroke="#1a1a1a" stroke-width="0.7"/>
<rect x="364" y="300.7" width="38.5" height="93.30000000000001" fill="#0000b0" stroke="#1a1a1a" stroke-width="0.7"/>
<rect x="402.5" y="302.4" width="37.5" height="91.60000000000002" fill="#ff880e" stroke="#1a1a1a" stroke-width="0.7"/>
<rect x="440" y="272.4" width="37.30000000000001" height="121.60000000000002" fill="#780000" stroke="#1a1a1a" stroke-width="0.7"/>
<path d="M345.7 315.1 V318.8 M343.9 315.1 H347.5" stroke="#111" stroke-width="1.1"/>
<path d="M383.8 297.3 V300.7 M382.0 297.3 H385.6" stroke="#111" stroke-width="1.1"/>
<path d="M421.2 297.3 V302.4 M419.4 297.3 H423.0" stroke="#111" stroke-width="1.1"/>
<path d="M458.8 264.5 V272.4 M457.0 264.5 H460.6" stroke="#111" stroke-width="1.1"/>
<path d="M296.3 245.2 H298.8" stroke="#888" stroke-width="1"/>
<text x="293.0" y="250.39999999999998" font-size="10.2" text-anchor="end" font-weight="bold" >2.0</text>
<path d="M296.3 282.6 H298.8" stroke="#888" stroke-width="1"/>
<text x="293.0" y="287.8" font-size="10.2" text-anchor="end" font-weight="bold" >1.5</text>
<path d="M296.3 320 H298.8" stroke="#888" stroke-width="1"/>
<text x="293.0" y="325.2" font-size="10.2" text-anchor="end" font-weight="bold" >1.0</text>
<path d="M296.3 357.4 H298.8" stroke="#888" stroke-width="1"/>
<text x="293.0" y="362.59999999999997" font-size="10.2" text-anchor="end" font-weight="bold" >0.5</text>
<text x="343" y="308.2" font-size="10" text-anchor="middle" font-weight="bold" >N=8</text>
<text x="384.5" y="290.5" font-size="10" text-anchor="middle" font-weight="bold" >N=6</text>
<text x="422.5" y="290.5" font-size="10" text-anchor="middle" font-weight="bold" >N=12</text>
<text x="461" y="258.6" font-size="10" text-anchor="middle" font-weight="bold" >N=10</text>
<path d="M346.9 243.5 V235.5 H419.4 V243.5" fill="none" stroke="#333" stroke-width="1"/>
<path d="M423.7 243.5 V235.5 H457.3 V243.5" fill="none" stroke="#333" stroke-width="1"/>
<text x="439.3" y="233" font-size="10" text-anchor="middle" font-weight="bold" >*</text>
<text x="407.8" y="410.4" font-size="11" text-anchor="middle" font-weight="bold" >CD62P</text>
<path d="M382.9 229.6 L385.3 226.1 L387.7 229.6" fill="none" stroke="#111" stroke-width="1.5"/>
<text transform="translate(273.2,389.2) rotate(-90)" font-size="9.9" font-weight="bold">Relative fluorescence intensity</text>
</svg>
</body></html>
